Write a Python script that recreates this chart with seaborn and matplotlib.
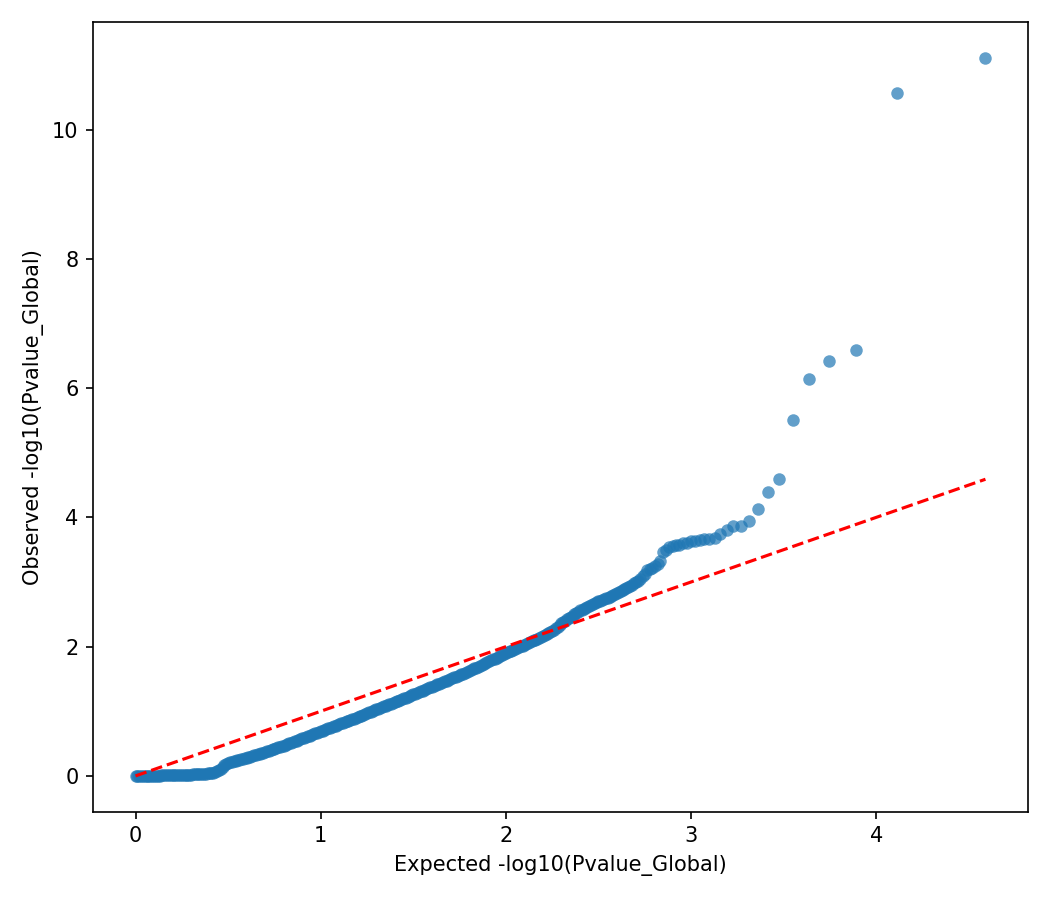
import matplotlib
matplotlib.use('Agg')
import matplotlib.pyplot as plt
import seaborn as sns
import pandas as pd

# Expected -log10(p), dense part of the curve
expected_dense = [
    0.00, 0.01, 0.02, 0.03, 0.04, 0.05, 0.06, 0.07, 0.08, 0.09,
    0.10, 0.11, 0.12, 0.13, 0.14, 0.15, 0.16, 0.17, 0.18, 0.19,
    0.20, 0.21, 0.22, 0.23, 0.24, 0.25, 0.26, 0.27, 0.28, 0.29,
    0.30, 0.31, 0.32, 0.33, 0.34, 0.35, 0.36, 0.37, 0.38, 0.39,
    0.40, 0.41, 0.42, 0.43, 0.44, 0.45, 0.46, 0.47, 0.48, 0.49,
    0.50, 0.51, 0.52, 0.53, 0.54, 0.55, 0.56, 0.57, 0.58, 0.59,
    0.60, 0.61, 0.62, 0.63, 0.64, 0.65, 0.66, 0.67, 0.68, 0.69,
    0.70, 0.71, 0.72, 0.73, 0.74, 0.75, 0.76, 0.77, 0.78, 0.79,
    0.80, 0.81, 0.82, 0.83, 0.84, 0.85, 0.86, 0.87, 0.88, 0.89,
    0.90, 0.91, 0.92, 0.93, 0.94, 0.95, 0.96, 0.97, 0.98, 0.99,
    1.00, 1.01, 1.02, 1.03, 1.04, 1.05, 1.06, 1.07, 1.08, 1.09,
    1.10, 1.11, 1.12, 1.13, 1.14, 1.15, 1.16, 1.17, 1.18, 1.19,
    1.20, 1.21, 1.22, 1.23, 1.24, 1.25, 1.26, 1.27, 1.28, 1.29,
    1.30, 1.31, 1.32, 1.33, 1.34, 1.35, 1.36, 1.37, 1.38, 1.39,
    1.40, 1.41, 1.42, 1.43, 1.44, 1.45, 1.46, 1.47, 1.48, 1.49,
    1.50, 1.51, 1.52, 1.53, 1.54, 1.55, 1.56, 1.57, 1.58, 1.59,
    1.60, 1.61, 1.62, 1.63, 1.64, 1.65, 1.66, 1.67, 1.68, 1.69,
    1.70, 1.71, 1.72, 1.73, 1.74, 1.75, 1.76, 1.77, 1.78, 1.79,
    1.80, 1.81, 1.82, 1.83, 1.84, 1.85, 1.86, 1.87, 1.88, 1.89,
    1.90, 1.91, 1.92, 1.93, 1.94, 1.95, 1.96, 1.97, 1.98, 1.99,
    2.00, 2.01, 2.02, 2.03, 2.04, 2.05, 2.06, 2.07, 2.08, 2.09,
    2.10, 2.11, 2.12, 2.13, 2.14, 2.15, 2.16, 2.17, 2.18, 2.19,
    2.20, 2.21, 2.22, 2.23, 2.24, 2.25, 2.26, 2.27, 2.28, 2.29,
    2.30, 2.31, 2.32, 2.33, 2.34, 2.35, 2.36, 2.37, 2.38, 2.39,
    2.40, 2.41, 2.42, 2.43, 2.44, 2.45, 2.46, 2.47, 2.48, 2.49,
    2.50, 2.51, 2.52, 2.53, 2.54, 2.55, 2.56, 2.57, 2.58, 2.59,
    2.60, 2.61, 2.62, 2.63, 2.64, 2.65, 2.66, 2.67, 2.68, 2.69,
]
observed_dense = [
    0.000, 0.000, 0.001, 0.001, 0.002, 0.002, 0.003, 0.003, 0.004, 0.004,
    0.005, 0.005, 0.006, 0.006, 0.007, 0.007, 0.008, 0.008, 0.009, 0.009,
    0.010, 0.011, 0.012, 0.013, 0.014, 0.015, 0.016, 0.017, 0.018, 0.019,
    0.020, 0.022, 0.024, 0.026, 0.028, 0.030, 0.032, 0.034, 0.036, 0.038,
    0.040, 0.045, 0.052, 0.060, 0.070, 0.088, 0.110, 0.140, 0.170, 0.188,
    0.200, 0.208, 0.216, 0.224, 0.232, 0.240, 0.248, 0.256, 0.264, 0.272,
    0.280, 0.289, 0.298, 0.307, 0.316, 0.325, 0.334, 0.343, 0.352, 0.361,
    0.370, 0.380, 0.390, 0.400, 0.410, 0.420, 0.430, 0.440, 0.450, 0.460,
    0.470, 0.481, 0.492, 0.503, 0.514, 0.525, 0.536, 0.547, 0.558, 0.569,
    0.580, 0.591, 0.602, 0.613, 0.624, 0.635, 0.646, 0.657, 0.668, 0.679,
    0.690, 0.701, 0.712, 0.723, 0.734, 0.745, 0.756, 0.767, 0.778, 0.789,
    0.800, 0.811, 0.822, 0.833, 0.844, 0.855, 0.866, 0.877, 0.888, 0.899,
    0.910, 0.922, 0.934, 0.946, 0.958, 0.970, 0.982, 0.994, 1.006, 1.018,
    1.030, 1.041, 1.052, 1.063, 1.074, 1.085, 1.096, 1.107, 1.118, 1.129,
    1.140, 1.152, 1.164, 1.176, 1.188, 1.200, 1.212, 1.224, 1.236, 1.248,
    1.260, 1.272, 1.284, 1.296, 1.308, 1.320, 1.332, 1.344, 1.356, 1.368,
    1.380, 1.392, 1.404, 1.416, 1.428, 1.440, 1.452, 1.464, 1.476, 1.488,
    1.500, 1.512, 1.524, 1.536, 1.548, 1.560, 1.572, 1.584, 1.596, 1.608,
    1.620, 1.634, 1.648, 1.662, 1.676, 1.690, 1.704, 1.718, 1.732, 1.746,
    1.760, 1.774, 1.788, 1.802, 1.816, 1.830, 1.844, 1.858, 1.872, 1.886,
    1.900, 1.913, 1.926, 1.939, 1.952, 1.965, 1.978, 1.991, 2.004, 2.017,
    2.030, 2.043, 2.056, 2.069, 2.082, 2.095, 2.108, 2.121, 2.134, 2.147,
    2.160, 2.176, 2.193, 2.210, 2.227, 2.243, 2.260, 2.285, 2.310, 2.335,
    2.360, 2.380, 2.400, 2.420, 2.440, 2.460, 2.480, 2.500, 2.520, 2.540,
    2.560, 2.573, 2.587, 2.600, 2.613, 2.627, 2.640, 2.655, 2.670, 2.685,
    2.700, 2.712, 2.723, 2.735, 2.747, 2.758, 2.770, 2.785, 2.800, 2.815,
    2.830, 2.845, 2.860, 2.875, 2.890, 2.907, 2.925, 2.942, 2.960, 2.980,
]

# Tail: individual points, largest first
expected_tail = [
    4.590, 4.113, 3.891, 3.745, 3.636, 3.549, 3.476, 3.414, 3.360, 3.311,
    3.268, 3.228, 3.192, 3.159, 3.128, 3.099, 3.071, 3.046, 3.022, 2.999,
    2.977, 2.957, 2.937, 2.918, 2.900, 2.883, 2.866, 2.850, 2.834, 2.819,
    2.805, 2.790, 2.777, 2.764, 2.751, 2.738, 2.725, 2.713, 2.701,
]
observed_tail = [
    11.11, 10.57, 6.59, 6.42, 6.14, 5.50, 4.60, 4.39, 4.13, 3.95,
    3.87, 3.86, 3.80, 3.74, 3.68, 3.67, 3.66, 3.65, 3.64, 3.63,
    3.61, 3.60, 3.58, 3.57, 3.56, 3.54, 3.50, 3.47, 3.32, 3.28,
    3.25, 3.22, 3.20, 3.18, 3.13, 3.09, 3.05, 3.02, 3.00,
]

df = pd.DataFrame({
    'expected': expected_dense + expected_tail,
    'observed': observed_dense + observed_tail,
})
max_expected = max(df['expected'])
diagonal = [0, max_expected]

fig, ax = plt.subplots(figsize=(7, 6), dpi=150)

sns.scatterplot(data=df, x='expected', y='observed', ax=ax,
                color='#1f77b4', alpha=0.7, s=36, linewidth=0)

# Linha de referência y = x
sns.lineplot(x=diagonal, y=diagonal, ax=ax, color='red', linestyle='--', linewidth=1.5)

ax.set_xlabel('Expected -log10(Pvalue_Global)', fontsize=10)
ax.set_ylabel('Observed -log10(Pvalue_Global)', fontsize=10)

plt.subplots_adjust(left=0.0886, right=0.979, bottom=0.098, top=0.9756)
plt.savefig('out.png', dpi=150)
